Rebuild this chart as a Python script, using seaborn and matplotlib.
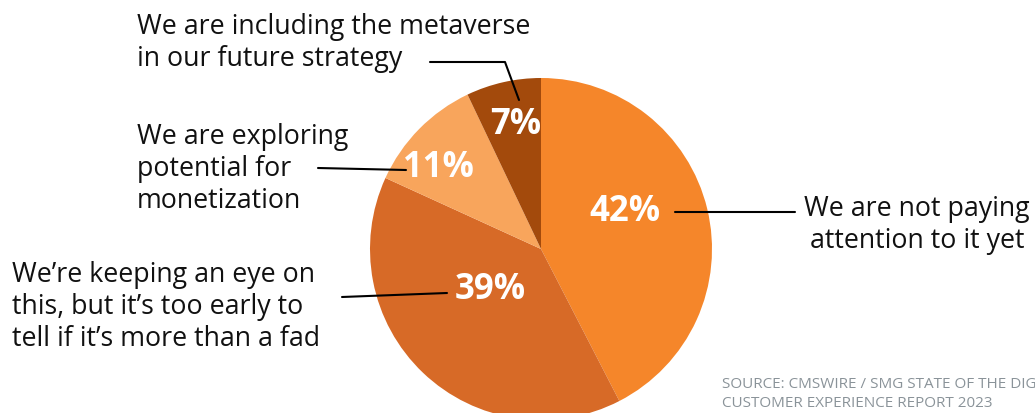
import matplotlib
matplotlib.use("Agg")
import matplotlib.pyplot as plt
import seaborn as sns

answers = ["We are not paying\nattention to it yet",
           "We\u2019re keeping an eye on\nthis, but it\u2019s too early to\ntell if it\u2019s more than a fad",
           "We are exploring\npotential for\nmonetization",
           "We are including the metaverse\nin our future strategy"]
shares = [42, 39, 11, 7]
colors = ["#F5862A", "#D76A27", "#F8A55C", "#A34A0C"]
source = "SOURCE: CMSWIRE / SMG STATE OF THE DIGITAL\nCUSTOMER EXPERIENCE REPORT 2023"

sns.set_theme(style="white")
plt.rcParams["font.family"] = ["Open Sans", "DejaVu Sans"]

W, H = 1035, 413
fig = plt.figure(figsize=(W / 100, H / 100), dpi=100)
ax = fig.add_axes([0, 0, 1, 1])


def Y(y):
    # pixel row (from top) -> data y
    return H - y


cx, cy, r = 541, Y(249), 171
ax.pie(shares, colors=colors, startangle=90, counterclock=False,
       center=(cx, cy), radius=r, wedgeprops=dict(linewidth=0),
       frame=True)
ax.set_xlim(0, W)
ax.set_ylim(0, H)
ax.set_aspect("equal")
ax.axis("off")

# percent labels on the slices
pct_pos = [(625, 212), (490, 290), (438, 168), (516, 125)]
for v, (x, y) in zip(shares, pct_pos):
    ax.text(x, Y(y), f"{v}%", color="white", fontsize=25, fontweight="bold",
            ha="center", va="center")

# leader lines
lk = dict(color="black", lw=1.5)
ax.plot([675, 795], [Y(212), Y(212)], **lk)
ax.plot([342, 447], [Y(297), Y(293)], **lk)
ax.plot([318, 406], [Y(168), Y(170)], **lk)
ax.plot([430, 505, 519], [Y(62), Y(62), Y(100)], **lk)

tk = dict(fontsize=19.3, color="#111111", linespacing=1.2)
ax.text(917, Y(225), answers[0], ha="center", va="center", **tk)
ax.text(12, Y(307), answers[1], ha="left", va="center", **tk)
ax.text(137, Y(169), answers[2], ha="left", va="center", **tk)
ax.text(137, Y(43), answers[3], ha="left", va="center", **tk)

ax.text(722, Y(394), source, ha="left", va="center", fontsize=11,
        color="#8A9399", linespacing=1.3)

fig.savefig("out.png", dpi=100)
